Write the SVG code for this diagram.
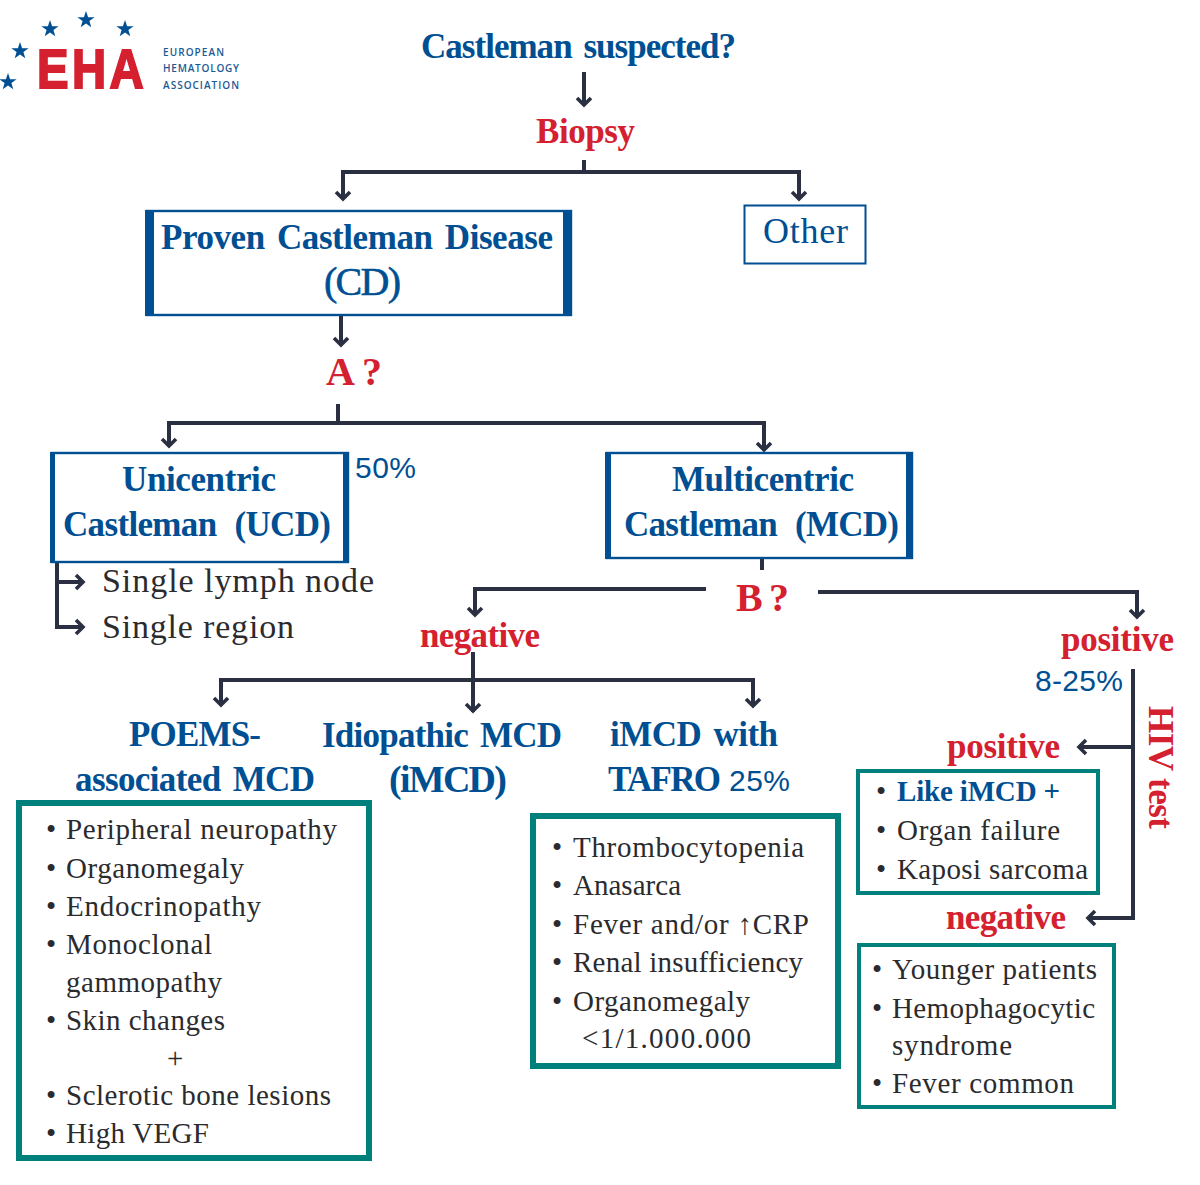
<svg xmlns="http://www.w3.org/2000/svg" xmlns:xlink="http://www.w3.org/1999/xlink" width="1200" height="1185" viewBox="0 0 1200 1185">
<style>
text{font-family:"Liberation Serif","Times New Roman",serif}
.h{font-weight:bold;fill:#004f92;font-size:35px;word-spacing:4px}
.r{font-weight:bold;fill:#d4202f;font-size:35px}
.b{fill:#2b2b2e;font-size:29px}
.p{font-family:"Liberation Sans",Arial,sans-serif;fill:#004f92;font-size:30px}
.l{font-family:"Open Sans",Arial,sans-serif;font-weight:600;fill:#1b5a94;font-size:10px}
.c{fill:none;stroke:#2a3042;stroke-width:4}
.a{fill:none;stroke:#2a3042;stroke-width:3.6}
.t{fill:#fff;stroke:#00807c;stroke-width:6}
.s{fill:#fff;stroke:#004f92;stroke-width:2.4}
.bar{fill:#004f92}
</style>
<defs>
<polygon id="star" points="0,-9 2.1,-2.8 8.6,-2.8 3.4,1 5.3,7.3 0,3.5 -5.3,7.3 -3.4,1 -8.6,-2.8 -2.1,-2.8" fill="#004f92"/>
<path id="ad" d="M-7,-7 L0,0 L7,-7" class="a"/>
<path id="ar" d="M-7,-7 L0,0 L-7,7" class="a"/>
<path id="al" d="M7,-7 L0,0 L7,7" class="a"/>
</defs>
<g id="logo">
<use xlink:href="#star" href="#star" x="86" y="20"/>
<use xlink:href="#star" href="#star" x="50" y="29"/>
<use xlink:href="#star" href="#star" x="125" y="29"/>
<use xlink:href="#star" href="#star" x="20" y="51"/>
<use xlink:href="#star" href="#star" x="8" y="82"/>
<text transform="translate(37 88) scale(.86 1)" x="0" y="0" textLength="124" style="font-family:'Liberation Sans',Arial,sans-serif;font-weight:bold;font-size:55px;fill:#d4202f;stroke:#d4202f;stroke-width:2">EHA</text>
<text class="l" x="163" y="56" textLength="61">EUROPEAN</text>
<text class="l" x="163" y="72" textLength="76">HEMATOLOGY</text>
<text class="l" x="163" y="89" textLength="76">ASSOCIATION</text>
</g>
<g id="connectors">
<path class="c" d="M584 72V105"/><use href="#ad" x="584" y="105"/>
<path class="c" d="M584 160V172M343 198V172H799V198"/><use href="#ad" x="343" y="199"/><use href="#ad" x="799" y="199"/>
<path class="c" d="M341 316V345"/><use href="#ad" x="341" y="345"/>
<path class="c" d="M338 404V423M169 446V423H764V450"/><use href="#ad" x="169" y="446"/><use href="#ad" x="764" y="450"/>
<path class="c" d="M57 563V627H82M57 582H82"/><use href="#ar" x="83" y="582"/><use href="#ar" x="83" y="627"/>
<path class="c" d="M762 559V570M706 589H475V615M818 592H1137V617"/><use href="#ad" x="475" y="615"/><use href="#ad" x="1137" y="617"/>
<path class="c" d="M473 652V712M221 705V680H753V706"/><use href="#ad" x="221" y="705"/><use href="#ad" x="473" y="711"/><use href="#ad" x="753" y="706"/>
<path class="c" d="M1133 669V918H1088M1133 747H1079"/><use href="#al" x="1079" y="747"/><use href="#al" x="1088" y="918"/>
</g>
<g id="n-suspected"><text class="h" x="421" y="58" textLength="315">Castleman suspected?</text></g>
<g id="n-biopsy"><text class="r" x="536" y="143" textLength="99">Biopsy</text></g>
<g id="n-proven">
<rect class="s" x="147" y="211" width="424" height="104"/>
<rect class="bar" x="145" y="210" width="9" height="106"/><rect class="bar" x="563" y="210" width="9" height="106"/>
<text class="h" x="161" y="249" textLength="392">Proven Castleman Disease</text>
<text class="h" x="324" y="295" textLength="77" style="font-size:40px;font-weight:normal;stroke:#004f92;stroke-width:.6">(CD)</text>
</g>
<g id="n-other"><rect x="744.500" y="205.500" width="121" height="58" fill="#fff" stroke="#004f92" stroke-width="2"/><text x="763" y="243" textLength="85" style="font-size:36px;fill:#004f92">Other</text></g>
<g id="n-a"><text class="r" x="326" y="385" textLength="56" style="font-size:40px">A ?</text></g>
<g id="n-ucd">
<rect class="s" x="52" y="453" width="296" height="109"/>
<rect class="bar" x="50" y="452" width="5" height="111"/><rect class="bar" x="343" y="452" width="6" height="111"/>
<text class="h" x="122" y="491" textLength="154">Unicentric</text>
<text class="h" x="63" y="536" textLength="268" style="word-spacing:10px">Castleman (UCD)</text>
</g>
<g id="n-50"><text class="p" x="355" y="478" textLength="61">50%</text></g>
<g id="n-mcd">
<rect class="s" x="607" y="453" width="305" height="105"/>
<rect class="bar" x="605" y="452" width="6" height="107"/><rect class="bar" x="906" y="452" width="7" height="107"/>
<text class="h" x="672" y="491" textLength="182">Multicentric</text>
<text class="h" x="624" y="536" textLength="275" style="word-spacing:10px">Castleman (MCD)</text>
</g>
<g id="n-single"><text class="b" x="102" y="592" textLength="272" style="font-size:34px">Single lymph node</text><text class="b" x="102" y="638" textLength="192" style="font-size:34px">Single region</text></g>
<g id="n-b"><text class="r" x="736" y="611" textLength="53" style="font-size:40px">B ?</text></g>
<g id="n-neg"><text class="r" x="420" y="647" textLength="120">negative</text></g>
<g id="n-pos"><text class="r" x="1061" y="651" textLength="113">positive</text></g>
<g id="n-8"><text class="p" x="1035" y="691" textLength="88">8-25%</text></g>
<g id="n-hiv"><text class="r" transform="translate(1149 706) rotate(90)" x="0" y="0" textLength="123">HIV test</text></g>
<g id="n-poems">
<text class="h" x="129" y="746" textLength="132">POEMS-</text>
<text class="h" x="75" y="791" textLength="240">associated MCD</text>
<rect class="t" x="19" y="803" width="350" height="355"/>
<g class="b">
<text x="46" y="839">•</text><text x="66" y="839" textLength="271">Peripheral neuropathy</text>
<text x="46" y="878">•</text><text x="66" y="878" textLength="178">Organomegaly</text>
<text x="46" y="916">•</text><text x="66" y="916" textLength="195">Endocrinopathy</text>
<text x="46" y="954">•</text><text x="66" y="954" textLength="146">Monoclonal</text>
<text x="66" y="992" textLength="156">gammopathy</text>
<text x="46" y="1030">•</text><text x="66" y="1030" textLength="159">Skin changes</text>
<text x="167" y="1068">+</text>
<text x="46" y="1105">•</text><text x="66" y="1105" textLength="265">Sclerotic bone lesions</text>
<text x="46" y="1143">•</text><text x="66" y="1143" textLength="143">High VEGF</text>
</g>
</g>
<g id="n-imcd">
<text class="h" x="322" y="747" textLength="240">Idiopathic MCD</text>
<text class="h" x="389" y="792" textLength="118" style="font-size:38px">(iMCD)</text>
</g>
<g id="n-tafro">
<text class="h" x="610" y="746" textLength="168">iMCD with</text>
<text class="h" x="608" y="791" textLength="113">TAFRO</text>
<text class="p" x="729" y="791" textLength="61">25%</text>
<rect class="t" x="533" y="816" width="305" height="250"/>
<g class="b">
<text x="552" y="857">•</text><text x="573" y="857" textLength="231">Thrombocytopenia</text>
<text x="552" y="895">•</text><text x="573" y="895" textLength="108">Anasarca</text>
<text x="552" y="934">•</text><text x="573" y="934" textLength="236">Fever and/or ↑CRP</text>
<text x="552" y="972">•</text><text x="573" y="972" textLength="230">Renal insufficiency</text>
<text x="552" y="1011">•</text><text x="573" y="1011" textLength="177">Organomegaly</text>
<text x="582" y="1048" textLength="169">&lt;1/1.000.000</text>
</g>
</g>
<g id="n-hivpos">
<text class="r" x="947" y="758" textLength="113">positive</text>
<rect class="t" x="858" y="771" width="240" height="122" style="stroke-width:4"/>
<text x="876" y="801" class="b">•</text><text x="897" y="801" textLength="163" style="font-size:29px;font-weight:bold;fill:#004f92">Like iMCD +</text>
<g class="b">
<text x="876" y="840">•</text><text x="897" y="840" textLength="163">Organ failure</text>
<text x="876" y="879">•</text><text x="897" y="879" textLength="191">Kaposi sarcoma</text>
</g>
</g>
<g id="n-hivneg">
<text class="r" x="946" y="929" textLength="120">negative</text>
<rect class="t" x="859" y="945" width="255" height="162" style="stroke-width:4"/>
<g class="b">
<text x="872" y="979">•</text><text x="892" y="979" textLength="205">Younger patients</text>
<text x="872" y="1018">•</text><text x="892" y="1018" textLength="203">Hemophagocytic</text>
<text x="892" y="1055" textLength="120">syndrome</text>
<text x="872" y="1093">•</text><text x="892" y="1093" textLength="182">Fever common</text>
</g>
</g>
</svg>
